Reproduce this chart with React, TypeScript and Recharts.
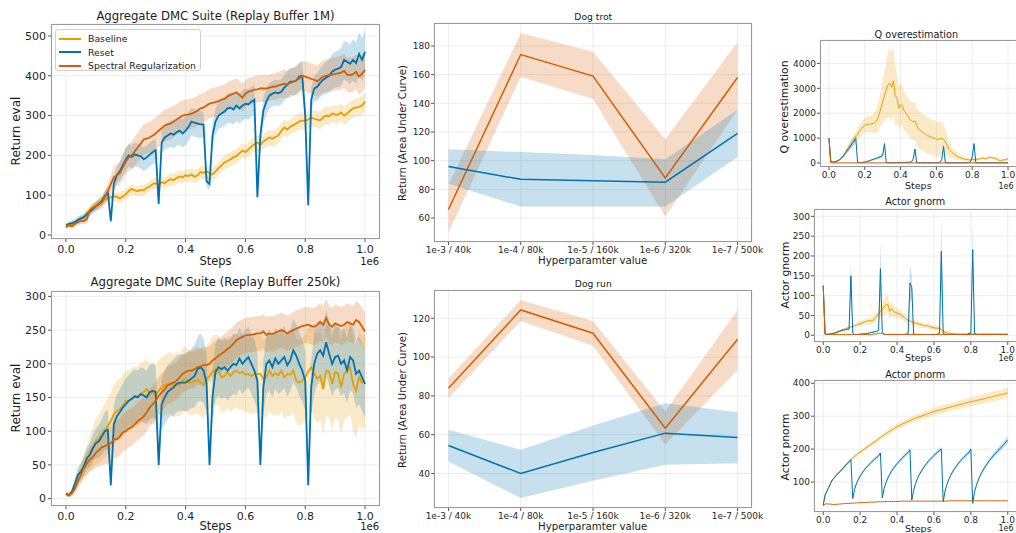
import React from 'react';
import { ComposedChart, Line, Area, XAxis, YAxis, CartesianGrid } from 'recharts';

const FONT = '"DejaVu Sans", "Liberation Sans", sans-serif';
const SERIES_NAMES = ['Baseline', 'Reset', 'Spectral Regularization'];
const C_BASE = '#E69F00';
const C_RESET = '#0072B2';
const C_SPEC = '#D55E00';

const STEPS = Array.from({ length: 101 }, (_, i) => i / 100);
const STEP_TICKS = [0, 0.2, 0.4, 0.6, 0.8, 1.0];
const HP_LABELS = ['1e-3 / 40k', '1e-4 / 80k', '1e-5 / 160k', '1e-6 / 320k', '1e-7 / 500k'];

// ---------- Aggregate DMC Suite (Replay Buffer 1M) ----------
const A_BASE = [22,24,26,30,35,40,45,55,62,70, 75,80,85,88,92,95,97,96,92,97, 102,110,116,112,110,113,112,118,122,128, 130,126,133,130,136,140,138,143,147,145, 150,148,152,146,150,158,156,160,155,152, 160,168,175,182,186,190,195,198,205,212, 208,215,222,228,232,226,235,240,245,242, 246,250,262,270,265,272,276,280,285,288, 286,290,295,292,290,288,295,300,298,305, 303,302,308,300,305,312,318,320,322,325, 335];
const A_BASE_SD = [5,5,6,6,7,7,8,8,9,9, 10,10,10,10,11,11,11,11,12,12, 12,12,12,12,13,13,13,13,13,14, 14,14,14,14,15,15,15,15,15,15, 15,16,16,16,16,16,16,17,17,17, 17,17,17,18,18,18,18,18,18,18, 18,18,19,19,19,19,19,19,19,20, 20,20,20,20,20,20,20,21,21,21, 21,21,21,21,21,22,22,22,22,22, 22,22,22,23,23,23,23,23,24,24, 24];
const A_RESET = [24,28,30,33,38,42,45,52,58,65, 72,78,85,98,108,35,128,150,160,175, 190,200,196,202,200,198,190,195,202,208, 213,78,232,245,250,255,252,258,262,255, 262,272,285,282,280,278,278,135,128,250, 285,300,305,310,318,320,315,325,318,325, 330,328,335,340,95,250,312,335,350,355, 358,356,360,370,378,385,385,388,398,400, 300,75,340,368,372,382,390,395,400,410, 415,418,422,440,435,430,440,432,455,440, 460];
const A_RESET_SD = [6,6,7,7,8,8,9,9,10,10, 11,11,12,12,14,8,18,20,24,26, 28,28,30,30,30,30,30,30,30,30, 30,10,28,30,32,33,34,34,35,35, 35,35,35,35,35,35,30,15,15,30, 32,34,35,36,37,38,38,38,38,38, 38,38,38,38,12,30,32,32,32,32, 32,32,32,32,33,33,34,35,35,35, 30,10,30,32,34,36,38,40,42,44, 45,46,48,48,50,50,52,52,54,54, 55];
const A_SPEC = [20,25,22,28,32,35,35,40,62,68, 72,78,82,95,110,128,145,150,155,170, 185,195,200,210,220,230,240,242,245,250, 255,262,268,275,278,280,285,290,295,300, 302,303,305,308,312,318,320,325,330,332, 334,336,340,342,348,352,355,358,352,345, 355,360,362,365,366,368,368,368,370,372, 373,376,378,380,378,382,385,388,393,400, 398,395,392,390,386,392,398,400,402,403, 405,406,408,412,403,402,404,410,398,405, 415];
const A_SPEC_SD = [5,6,6,7,7,8,8,9,10,11, 12,14,16,18,20,22,25,27,29,31, 33,34,35,36,37,38,38,39,39,40, 40,40,40,40,40,40,40,39,39,39, 38,38,38,38,38,37,37,37,37,37, 37,37,36,36,36,36,35,35,35,35, 35,34,34,34,34,34,33,33,33,33, 33,34,34,35,35,36,36,37,37,38, 38,38,39,39,40,40,40,41,41,42, 42,42,43,43,43,44,44,44,45,45, 45];

// ---------- Aggregate DMC Suite (Replay Buffer 250k) ----------
const B_BASE = [7,5,10,20,32,40,48,55,68,75, 85,88,95,100,108,115,125,130,132,138, 145,145,148,150,152,155,158,163,155,158, 152,160,165,168,170,172,166,170,168,175, 178,172,172,175,176,172,168,178,182,188, 192,190,180,182,188,182,188,190,186,188, 184,185,182,185,185,185,178,180,190,182, 186,183,190,180,185,184,190,175,172,175, 180,188,195,185,178,182,162,190,188,170, 188,185,165,185,190,195,170,160,180,172, 175];
const B_BASE_SD = [3,3,5,8,12,15,18,22,26,30, 33,36,38,40,42,43,44,45,45,45, 45,45,45,45,45,45,45,45,45,45, 45,45,45,45,45,46,46,47,47,48, 48,48,49,49,50,50,50,50,50,52, 52,52,53,53,54,54,55,55,55,56, 56,57,57,58,58,58,59,59,60,60, 60,61,61,62,62,62,63,63,64,64, 64,65,65,66,66,66,67,67,68,68, 68,68,69,69,70,70,70,70,70,70, 70];
const B_RESET = [7,5,10,22,35,40,48,60,65,75, 82,85,92,100,102,20,110,122,128,135, 140,145,148,152,150,155,153,150,158,160, 158,50,140,150,158,162,165,170,172,172, 172,175,178,182,192,195,190,172,50,150, 188,195,192,195,190,195,200,198,208,200, 205,210,200,190,175,50,165,200,205,195, 208,200,205,210,198,205,220,212,200,190, 175,20,165,200,215,220,212,232,215,200, 210,212,200,205,190,210,205,185,190,180, 170];
const B_RESET_SD = [3,3,5,8,10,12,14,16,18,20, 22,24,26,28,30,8,30,32,34,36, 38,38,40,40,40,40,40,40,40,40, 40,10,38,40,40,40,42,42,42,42, 42,44,44,46,48,50,48,42,10,40, 42,42,44,44,44,44,45,45,45,45, 45,45,45,45,42,10,40,44,45,45, 45,45,46,46,46,46,47,47,47,46, 44,8,40,45,46,46,47,48,48,48, 48,48,48,48,48,49,49,50,50,50, 50];
const B_SPEC = [7,5,8,15,25,35,45,52,58,62, 68,72,76,78,80,82,88,88,92,98, 100,104,106,110,115,118,122,128,135,140, 145,152,158,162,168,170,172,175,180,185, 188,190,190,192,195,196,198,198,200,205, 208,212,215,218,222,225,230,235,238,240, 242,243,243,244,245,245,248,243,245,244, 246,248,250,248,245,248,250,252,254,256, 257,258,256,255,258,262,258,268,258,255, 260,258,256,258,262,260,258,265,262,255, 248];
const B_SPEC_SD = [3,3,5,8,10,12,14,16,18,20, 22,24,26,27,28,28,28,28,28,28, 28,28,28,28,28,28,28,28,28,28, 28,28,28,28,28,28,28,28,28,28, 28,28,27,27,27,27,27,26,26,26, 26,26,26,26,26,26,26,26,26,26, 26,26,26,26,26,26,26,26,26,26, 26,26,26,26,26,26,27,27,27,27, 27,27,27,28,28,28,28,28,28,28, 28,28,28,28,28,28,28,28,28,28, 28];

// ---------- Dog trot / Dog run ----------
const TROT_SPEC = [66, 174, 159, 88, 158];
const TROT_SPEC_LO = [50, 158.5, 143, 61, 135.5];
const TROT_SPEC_HI = [83, 189, 176, 115, 182.5];
const TROT_RESET = [96, 87, 86, 85, 119];
const TROT_RESET_LO = [84, 68, 68, 68, 102.5];
const TROT_RESET_HI = [108, 106, 104, 101, 135.5];

const RUN_SPEC = [84, 124.3, 112.3, 63.3, 109.2];
const RUN_SPEC_LO = [78.8, 118.6, 105.8, 55, 93.4];
const RUN_SPEC_HI = [89, 129.4, 118.6, 72, 124.3];
const RUN_RESET = [54.4, 40, 50.8, 60.8, 58.5];
const RUN_RESET_LO = [46.2, 27.3, 36.2, 44.5, 45.3];
const RUN_RESET_HI = [62.5, 52.2, 64.7, 76.2, 71.6];

// ---------- Q overestimation ----------
const Q_BASE = [1000,80,40,30,50,80,120,180,280,400, 520,620,720,830,950,1050,1150,1280,1350,1450, 1500,1550,1560,1550,1580,1600,1650,1750,1950,2200, 2450,2700,2950,3150,3200,3050,3300,2700,2600,2200, 2350,2300,2100,2000,1900,1750,1700,1650,1700,1500, 1350,1300,1250,1200,1150,1100,1080,1050,1000,1000, 950,950,980,990,950,850,700,550,480,400, 350,300,250,220,200,180,150,140,130,120, 150,130,140,150,160,180,200,180,170,220, 230,210,200,180,150,110,100,120,130,140, 180];
const Q_BASE_SD = [0,20,15,15,20,30,40,60,80,100, 120,140,160,180,200,220,240,260,270,280, 290,300,310,330,360,400,450,520,600,700, 850,1000,1150,1300,1400,1400,1350,1200,1000,900, 850,800,780,760,750,750,750,760,760,760, 760,760,750,750,740,740,730,720,720,710, 700,700,680,650,600,500,400,320,260,220, 180,150,120,100,90,80,70,65,60,60, 60,60,60,60,60,60,60,60,60,60, 60,60,60,60,60,60,55,55,55,55, 55];
const Q_RESET = [1000,60,40,50,70,100,140,200,280,380, 480,580,680,780,880,980,20,20,20,30, 40,60,80,100,130,150,180,200,230,260, 300,780,20,10,10,10,10,10,15,15, 20,20,25,25,30,35,40,150,560,20, 10,10,10,10,10,10,10,10,10,10, 10,10,15,150,670,10,10,10,10,10, 10,10,10,10,10,10,10,10,15,40, 250,780,10,10,10,10,10,10,10,10, 10,10,10,10,10,10,10,10,10,10, 10];
const Q_RESET_SD = [0,10,10,10,15,20,30,40,60,80, 100,120,140,160,180,150,10,10,10,10, 15,20,25,30,40,45,50,60,70,80, 90,100,10,5,5,5,5,5,5,5, 5,5,5,5,5,5,10,30,80,5, 5,5,5,5,5,5,5,5,5,5, 5,5,5,30,100,5,5,5,5,5, 5,5,5,5,5,5,5,5,5,10, 50,100,5,5,5,5,5,5,5,5, 5,5,5,5,5,5,5,5,5,5, 5];
const Q_SPEC = [1000,15,8,6,5,5,5,5,5,5, 5,5,5,5,5,5,5,5,5,5, 6,6,6,6,6,6,6,6,6,6, 6,6,6,6,6,6,6,6,6,6, 5,5,5,5,5,5,5,5,5,5, 5,5,5,5,5,5,5,5,5,5, 5,5,5,5,5,5,5,5,5,5, 4,4,4,4,4,4,4,4,4,4, 4,4,4,4,4,4,4,4,4,4, 4,4,4,4,4,4,4,4,4,4, 4];

// ---------- Actor gnorm ----------
const G_BASE = [125,3,3,4,4,5,6,8,10,12, 13,15,16,18,20,21,22,24,26,28, 29,31,33,35,36,37,36,38,42,48, 55,60,66,72,76,78,60,68,60,58, 56,55,52,48,45,40,38,36,34,32, 30,30,28,27,25,24,24,23,22,20, 19,18,18,17,15,10,8,6,5,5, 4,4,3,3,3,3,3,3,3,3, 3,3,3,3,3,3,3,3,3,3, 3,3,3,3,3,3,3,3,3,3, 3];
const G_BASE_SD = [10,1,1,1,1,1,1,2,2,2, 3,3,3,4,4,4,5,5,5,6, 6,6,7,7,7,8,8,9,10,12, 14,16,18,20,22,22,20,18,16,14, 13,12,11,10,10,9,9,8,8,8, 7,7,7,7,6,6,6,6,6,6, 6,6,6,5,5,4,3,2,2,2, 1,1,1,1,1,1,1,1,1,1, 1,1,1,1,1,1,1,1,1,1, 1,1,1,1,1,1,1,1,1,1, 1];
const G_RESET = [125,3,2,2,3,4,5,6,8,10, 12,13,14,15,16,150,5,2,2,2, 3,3,4,4,5,6,7,8,9,10, 12,168,8,2,2,2,2,2,2,2, 2,2,2,2,2,3,3,132,120,3, 2,2,2,2,2,2,2,2,2,2, 2,2,3,5,212,5,2,2,2,2, 2,2,2,2,2,2,2,2,2,5, 5,216,5,2,2,2,2,2,2,2, 2,2,2,2,2,2,2,2,2,2, 2];
const G_RESET_SD = [10,1,1,1,1,1,1,1,1,2, 2,2,2,2,2,35,2,1,1,1, 1,1,1,1,1,1,1,2,2,2, 2,70,2,1,1,1,1,1,1,1, 1,1,1,1,1,1,1,48,30,1, 1,1,1,1,1,1,1,1,1,1, 1,1,1,2,88,2,1,1,1,1, 1,1,1,1,1,1,1,1,1,2, 2,69,2,1,1,1,1,1,1,1, 1,1,1,1,1,1,1,1,1,1, 1];
const G_SPEC = [125,2,2,2,2,2,2,2,2,2, 2,2,2,2,2,2,2,2,2,2, 2,2,2,2,2,2,2,3,3,4, 5,5,4,3,2,2,2,2,2,2, 2,2,2,2,2,2,2,2,2,2, 2,2,2,2,2,2,2,2,2,2, 2,2,2,2,2,2,2,2,2,2, 2,2,2,2,2,2,2,2,2,2, 2,2,2,2,2,2,2,2,2,2, 2,2,2,2,2,2,2,2,2,2, 2];

// ---------- Actor pnorm ----------
const P_BASE = [30,60,72,84,96,107,113,120,126,132, 137,143,150,156,162,168,173,178,182,187, 191,195,199,203,207,211,215,219,223,227, 231,235,239,243,247,251,254,258,261,265, 268,271,274,277,279,282,284,287,289,292, 294,296,298,300,302,304,306,308,310,312, 314,316,317,319,320,322,323,325,326,328, 329,331,332,334,335,337,338,340,341,343, 344,345,346,348,349,350,351,353,354,356, 357,358,360,361,362,364,365,366,368,369, 371];
const P_BASE_SD = [0,2,2,2,3,3,3,3,3,3, 4,4,4,4,4,4,5,5,5,5, 5,5,6,6,6,6,6,6,7,7, 7,7,7,7,8,8,8,8,8,8, 8,9,9,9,9,9,9,9,10,10, 10,10,10,10,10,11,11,11,11,11, 11,11,11,12,12,12,12,12,12,12, 12,12,13,13,13,13,13,13,13,13, 14,14,14,14,14,14,14,14,14,15, 15,15,15,15,15,15,15,15,16,16, 16];
const P_RESET = [30,60,72,84,96,107,113,120,126,132, 137,143,150,156,162,168,50,78,95,108, 118,127,135,142,148,154,160,165,170,175, 180,188,52,80,98,112,123,133,141,149, 156,162,168,174,180,185,190,198,45,75, 95,110,122,132,141,149,156,163,169,175, 181,186,191,196,200,40,72,92,107,120, 130,139,147,155,162,168,174,180,185,190, 200,35,70,90,106,119,130,140,149,157, 165,172,179,185,191,197,203,209,215,222, 228];
const P_RESET_SD = [0,2,2,2,3,3,3,3,3,3, 4,4,4,4,4,4,2,3,3,4, 4,4,5,5,5,5,5,6,6,6, 6,6,2,3,3,4,4,4,5,5, 5,5,6,6,6,6,6,6,2,3, 3,4,4,4,5,5,5,6,6,6, 6,6,7,7,7,2,3,3,4,4, 5,5,5,6,6,6,6,7,7,7, 7,2,3,4,4,5,5,6,6,7, 7,7,8,8,8,9,9,9,10,10, 10];
const P_SPEC = [28,33,34,33,33,32,32,32,33,33, 34,34,35,35,35,36,36,36,37,37, 37,38,38,38,38,39,39,39,39,40, 40,40,40,40,41,41,41,41,41,41, 41,41,42,42,42,42,42,42,42,42, 42,42,42,42,42,42,42,42,42,42, 42,42,42,42,42,42,42,42,43,43, 43,43,43,43,43,43,43,43,43,43, 43,43,43,43,43,43,43,43,43,43, 43,43,43,43,43,43,43,43,43,43, 43];

// ---------- table builders ----------
type Ser = { key: string; mean: number[]; sd?: number[]; lo?: number[]; hi?: number[] };
function stepTable(series: Ser[]) {
  return STEPS.map((x, i) => {
    const row: any = { x };
    series.forEach((s) => {
      row[s.key] = s.mean[i];
      if (s.sd) row[s.key + 'Band'] = [s.mean[i] - s.sd[i], s.mean[i] + s.sd[i]];
    });
    return row;
  });
}
function hpTable(series: Ser[]) {
  return HP_LABELS.map((_, i) => {
    const row: any = { x: i };
    series.forEach((s) => {
      row[s.key] = s.mean[i];
      if (s.lo && s.hi) row[s.key + 'Band'] = [s.lo[i], s.hi[i]];
    });
    return row;
  });
}

const DATA_A = stepTable([
  { key: 'base', mean: A_BASE, sd: A_BASE_SD },
  { key: 'reset', mean: A_RESET, sd: A_RESET_SD },
  { key: 'spec', mean: A_SPEC, sd: A_SPEC_SD },
]);
const DATA_B = stepTable([
  { key: 'base', mean: B_BASE, sd: B_BASE_SD },
  { key: 'reset', mean: B_RESET, sd: B_RESET_SD },
  { key: 'spec', mean: B_SPEC, sd: B_SPEC_SD },
]);
const DATA_TROT = hpTable([
  { key: 'spec', mean: TROT_SPEC, lo: TROT_SPEC_LO, hi: TROT_SPEC_HI },
  { key: 'reset', mean: TROT_RESET, lo: TROT_RESET_LO, hi: TROT_RESET_HI },
]);
const DATA_RUN = hpTable([
  { key: 'spec', mean: RUN_SPEC, lo: RUN_SPEC_LO, hi: RUN_SPEC_HI },
  { key: 'reset', mean: RUN_RESET, lo: RUN_RESET_LO, hi: RUN_RESET_HI },
]);
const DATA_Q = stepTable([
  { key: 'base', mean: Q_BASE, sd: Q_BASE_SD },
  { key: 'reset', mean: Q_RESET, sd: Q_RESET_SD },
  { key: 'spec', mean: Q_SPEC },
]);
const DATA_G = stepTable([
  { key: 'base', mean: G_BASE, sd: G_BASE_SD },
  { key: 'reset', mean: G_RESET, sd: G_RESET_SD },
  { key: 'spec', mean: G_SPEC },
]);
const DATA_P = stepTable([
  { key: 'base', mean: P_BASE, sd: P_BASE_SD },
  { key: 'reset', mean: P_RESET, sd: P_RESET_SD },
  { key: 'spec', mean: P_SPEC },
]);

type Rect = { x: number; y: number; w: number; h: number };
type LineDef = { key: string; color: string; band: boolean };

function Panel(props: {
  rect: Rect; data: any[]; xDomain: number[]; yDomain: number[]; xTicks: number[]; yTicks: number[];
  xFmt: (v: number) => string; lines: LineDef[]; tickFont: number; lw: number; gap: number;
}) {
  const { rect: p, data, xDomain, yDomain, xTicks, yTicks, xFmt, lines, tickFont, lw, gap } = props;
  const YW = 60, RM = 24, XH = 40, TM = 10;
  const tick = { fontSize: tickFont, fill: '#1f1f1f', fontFamily: FONT };
  return (
    <>
      <div style={{ position: 'absolute', left: p.x - YW, top: p.y - TM }}>
        <ComposedChart width={YW + p.w + RM} height={TM + p.h + XH} data={data}
          margin={{ top: TM, right: RM, bottom: 0, left: 0 }}>
          <CartesianGrid stroke="#e9e9e9" strokeWidth={0.8} />
          <XAxis type="number" dataKey="x" domain={xDomain} allowDataOverflow ticks={xTicks} interval={0}
            tickFormatter={xFmt} height={XH} axisLine={false} tickSize={3} tickMargin={gap}
            tick={tick} tickLine={{ stroke: '#555' }} />
          <YAxis type="number" domain={yDomain} allowDataOverflow ticks={yTicks} interval={0}
            width={YW} axisLine={false} tickSize={3} tickMargin={gap - 1}
            tick={tick} tickLine={{ stroke: '#555' }} />
          {lines.filter((l) => l.band).map((l) => (
            <Area key={l.key + 'Band'} type="linear" dataKey={l.key + 'Band'} stroke="none" fill={l.color}
              fillOpacity={0.22} isAnimationActive={false} activeDot={false} dot={false} />
          ))}
          {lines.map((l) => (
            <Line key={l.key} type="linear" dataKey={l.key} stroke={l.color} strokeWidth={lw} dot={false}
              activeDot={false} isAnimationActive={false} />
          ))}
        </ComposedChart>
      </div>
      <div style={{ position: 'absolute', left: p.x, top: p.y, width: p.w, height: p.h,
        border: '1px solid #9a9a9a', boxSizing: 'border-box', pointerEvents: 'none' }} />
    </>
  );
}

function Txt(props: { x: number; y: number; size: number; rotate?: boolean; children: React.ReactNode }) {
  const { x, y, size, rotate, children } = props;
  return (
    <div style={{ position: 'absolute', left: x, top: y, fontSize: size, fontFamily: FONT, color: '#1a1a1a',
      whiteSpace: 'nowrap', lineHeight: 1,
      transform: 'translate(-50%, -50%)' + (rotate ? ' rotate(-90deg)' : '') }}>
      {children}
    </div>
  );
}

const fmt1 = (v: number) => v.toFixed(1);
const fmtHp = (v: number) => HP_LABELS[Math.round(v)] ?? '';

const THREE: LineDef[] = [
  { key: 'base', color: C_BASE, band: true },
  { key: 'reset', color: C_RESET, band: true },
  { key: 'spec', color: C_SPEC, band: true },
];
const RIGHT: LineDef[] = [
  { key: 'base', color: C_BASE, band: true },
  { key: 'reset', color: C_RESET, band: true },
  { key: 'spec', color: C_SPEC, band: false },
];
const TWO: LineDef[] = [
  { key: 'spec', color: C_SPEC, band: true },
  { key: 'reset', color: C_RESET, band: true },
];

export default function App() {
  const legendColors = [C_BASE, C_RESET, C_SPEC];
  return (
    <div style={{ position: 'absolute', left: 0, top: 0, width: 1016, height: 533, overflow: 'hidden', background: '#fff' }}>
      {/* Left column */}
      <Panel rect={{ x: 51, y: 24, w: 329, h: 215 }} data={DATA_A} xDomain={[-0.05, 1.05]} yDomain={[-10, 530]}
        xTicks={STEP_TICKS} yTicks={[0, 100, 200, 300, 400, 500]} xFmt={fmt1} lines={THREE} tickFont={11} lw={1.8} gap={3} />
      <Txt x={215.5} y={16.7} size={11.7}>Aggregate DMC Suite (Replay Buffer 1M)</Txt>
      <Txt x={15.7} y={131} size={12} rotate>Return eval</Txt>
      <Txt x={215.5} y={262} size={11.5}>Steps</Txt>
      <Txt x={369.7} y={261.5} size={10}>1e6</Txt>
      <div style={{ position: 'absolute', left: 55, top: 29, width: 146, height: 42, border: '1px solid #d0d0d0',
        borderRadius: 3, background: 'rgba(255,255,255,0.85)', boxSizing: 'border-box' }}>
        {SERIES_NAMES.map((n, i) => (
          <div key={n} style={{ position: 'absolute', left: 3, top: 2 + i * 13.6, height: 13, display: 'flex', alignItems: 'center' }}>
            <div style={{ width: 22, height: 0, borderTop: `2px solid ${legendColors[i]}` }} />
            <span style={{ marginLeft: 7, fontSize: 9.3, fontFamily: FONT, color: '#1a1a1a', whiteSpace: 'nowrap' }}>{n}</span>
          </div>
        ))}
      </div>

      <Panel rect={{ x: 51, y: 291, w: 329, h: 215 }} data={DATA_B} xDomain={[-0.05, 1.05]} yDomain={[-11, 308]}
        xTicks={STEP_TICKS} yTicks={[0, 50, 100, 150, 200, 250, 300]} xFmt={fmt1} lines={THREE} tickFont={11} lw={1.8} gap={3} />
      <Txt x={215.5} y={283.3} size={11.7}>Aggregate DMC Suite (Replay Buffer 250k)</Txt>
      <Txt x={15.7} y={398} size={12} rotate>Return eval</Txt>
      <Txt x={215.5} y={527.3} size={11.5}>Steps</Txt>
      <Txt x={369.7} y={527} size={10}>1e6</Txt>

      {/* Middle column */}
      <Panel rect={{ x: 434, y: 23, w: 318, h: 219 }} data={DATA_TROT} xDomain={[-0.2, 4.2]} yDomain={[43.3, 196]}
        xTicks={[0, 1, 2, 3, 4]} yTicks={[60, 80, 100, 120, 140, 160, 180]} xFmt={fmtHp} lines={TWO} tickFont={9} lw={1.5} gap={2} />
      <Txt x={593.3} y={17.3} size={9.2}>Dog trot</Txt>
      <Txt x={403.3} y={132.8} size={10.2} rotate>Return (Area Under Curve)</Txt>
      <Txt x={592.7} y={261} size={10.2}>Hyperparamter value</Txt>

      <Panel rect={{ x: 434, y: 290, w: 318, h: 218 }} data={DATA_RUN} xDomain={[-0.2, 4.2]} yDomain={[22.2, 134.6]}
        xTicks={[0, 1, 2, 3, 4]} yTicks={[40, 60, 80, 100, 120]} xFmt={fmtHp} lines={TWO} tickFont={9} lw={1.5} gap={2} />
      <Txt x={593.3} y={284} size={9.2}>Dog run</Txt>
      <Txt x={403.3} y={400} size={10.2} rotate>Return (Area Under Curve)</Txt>
      <Txt x={592.7} y={527.3} size={10.2}>Hyperparamter value</Txt>

      {/* Right column */}
      <Panel rect={{ x: 819.7, y: 40, w: 197, h: 127 }} data={DATA_Q} xDomain={[-0.05, 1.05]} yDomain={[-160, 4940]}
        xTicks={STEP_TICKS} yTicks={[0, 1000, 2000, 3000, 4000]} xFmt={fmt1} lines={RIGHT} tickFont={9} lw={1} gap={2} />
      <Txt x={916.3} y={35} size={9.7}>Q overestimation</Txt>
      <Txt x={785} y={106.7} size={10.8} rotate>Q overestimation</Txt>
      <Txt x={918.3} y={185.7} size={9.5}>Steps</Txt>
      <Txt x={1006} y={186.5} size={8}>1e6</Txt>

      <Panel rect={{ x: 814, y: 209, w: 203, h: 133 }} data={DATA_G} xDomain={[-0.05, 1.05]} yDomain={[-17, 318.5]}
        xTicks={STEP_TICKS} yTicks={[0, 50, 100, 150, 200, 250, 300]} xFmt={fmt1} lines={RIGHT} tickFont={9} lw={1} gap={2} />
      <Txt x={915.3} y={202.3} size={9.7}>Actor gnorm</Txt>
      <Txt x={786} y={275} size={10.8} rotate>Actor gnorm</Txt>
      <Txt x={918.3} y={358.3} size={9.5}>Steps</Txt>
      <Txt x={1006} y={358.5} size={8}>1e6</Txt>

      <Panel rect={{ x: 814, y: 380, w: 203, h: 132 }} data={DATA_P} xDomain={[-0.05, 1.05]} yDomain={[9, 410]}
        xTicks={STEP_TICKS} yTicks={[100, 200, 300, 400]} xFmt={fmt1} lines={RIGHT} tickFont={9} lw={1} gap={2} />
      <Txt x={915.3} y={375} size={9.7}>Actor pnorm</Txt>
      <Txt x={786} y={446.7} size={10.8} rotate>Actor pnorm</Txt>
      <Txt x={918.3} y={529} size={9.5}>Steps</Txt>
      <Txt x={1006} y={528.5} size={8}>1e6</Txt>
    </div>
  );
}
